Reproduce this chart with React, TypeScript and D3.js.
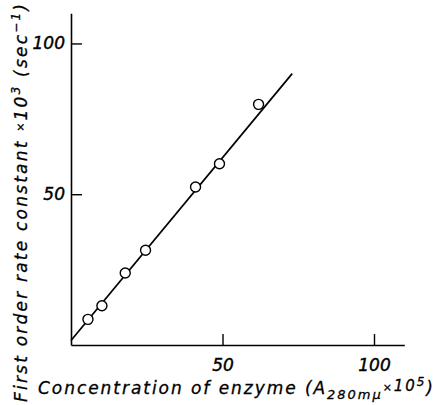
import React, { useEffect, useRef } from "react";
import * as d3 from "d3";

const width = 435;
const height = 405;

// measured points
const concentration = [5.6, 10.2, 17.9, 24.6, 41.1, 49.0, 61.9];
const rateConstant = [8.5, 13.0, 23.9, 31.4, 52.4, 60.1, 79.8];

// fitted line end points
const fitX = [0, 73];
const fitY = [1.5, 90];

const xTicks = [50, 100];
const yTicks = [50, 100];

const font = "'DejaVu Sans', sans-serif";

export default function App() {
  const ref = useRef<SVGSVGElement | null>(null);

  useEffect(() => {
    const svg = d3.select(ref.current);
    svg.selectAll("*").remove();

    const x = d3.scaleLinear().domain([0, 110]).range([71, 404.3]);
    const y = d3.scaleLinear().domain([0, 110]).range([345, 13.3]);

    // axes, ticks pointing inward
    const xAxis = d3.axisBottom(x)
      .tickValues(xTicks)
      .tickSizeInner(-11)
      .tickSizeOuter(0)
      .tickPadding(14);

    const yAxis = d3.axisLeft(y)
      .tickValues(yTicks)
      .tickSizeInner(-11)
      .tickSizeOuter(0)
      .tickPadding(6);

    const gx = svg.append("g")
      .attr("transform", "translate(0," + y(0) + ")")
      .call(xAxis);

    const gy = svg.append("g")
      .attr("transform", "translate(" + x(0) + ",0)")
      .call(yAxis);

    [gx, gy].forEach(function(g) {
      g.select(".domain").attr("stroke", "#000").attr("stroke-width", 1.6);
      g.selectAll(".tick line").attr("stroke", "#000").attr("stroke-width", 1.4);
      g.selectAll(".tick text")
        .attr("fill", "#000")
        .attr("stroke", "#000")
        .attr("stroke-width", 0.4)
        .style("font-family", font)
        .style("font-style", "italic")
        .style("font-size", "17px");
    });

    // fitted line
    const line = d3.line<number>()
      .x(function(d, i) { return x(fitX[i]); })
      .y(function(d) { return y(d); });

    svg.append("path")
      .datum(fitY)
      .attr("d", line)
      .attr("fill", "none")
      .attr("stroke", "#000")
      .attr("stroke-width", 1.7);

    // data points
    svg.selectAll(".pt")
      .data(concentration)
      .enter().append("circle")
      .attr("class", "pt")
      .attr("cx", function(d) { return x(d); })
      .attr("cy", function(d, i) { return y(rateConstant[i]); })
      .attr("r", 5)
      .attr("fill", "#fff")
      .attr("stroke", "#000")
      .attr("stroke-width", 1.4);

    // x axis title
    const xt = svg.append("text")
      .attr("x", 38)
      .attr("y", 394)
      .attr("textLength", 395)
      .attr("lengthAdjust", "spacing")
      .attr("stroke", "#000")
      .attr("stroke-width", 0.3)
      .style("font-family", font)
      .style("font-style", "italic")
      .style("font-size", "17px");
    xt.append("tspan").text("Concentration of enzyme (A");
    xt.append("tspan").attr("dy", 5).style("font-size", "13px").text("280mμ");
    xt.append("tspan").attr("dy", -8).style("font-size", "11px").text("×");
    xt.append("tspan").style("font-size", "15px").text("10");
    xt.append("tspan").attr("dy", -5).style("font-size", "12px").text("5");
    xt.append("tspan").attr("dy", 8).text(")");

    // y axis title
    const yt = svg.append("text")
      .attr("transform", "translate(27,402) rotate(-90)")
      .attr("x", 0)
      .attr("y", 0)
      .attr("textLength", 398)
      .attr("lengthAdjust", "spacing")
      .attr("stroke", "#000")
      .attr("stroke-width", 0.3)
      .style("font-family", font)
      .style("font-style", "italic")
      .style("font-size", "17px");
    yt.append("tspan").text("First order rate constant ");
    yt.append("tspan").attr("dy", -3).style("font-size", "11px").text("×");
    yt.append("tspan").attr("dy", 3).text("10");
    yt.append("tspan").attr("dy", -7).style("font-size", "12px").text("3");
    yt.append("tspan").attr("dy", 7).text(" (sec");
    yt.append("tspan").attr("dy", -7).style("font-size", "12px").text("−1");
    yt.append("tspan").attr("dy", 7).text(")");
  }, []);

  return (
    <svg
      ref={ref}
      width={width}
      height={height}
      style={{ position: "absolute", left: 0, top: 0, background: "#fff" }}
    />
  );
}
